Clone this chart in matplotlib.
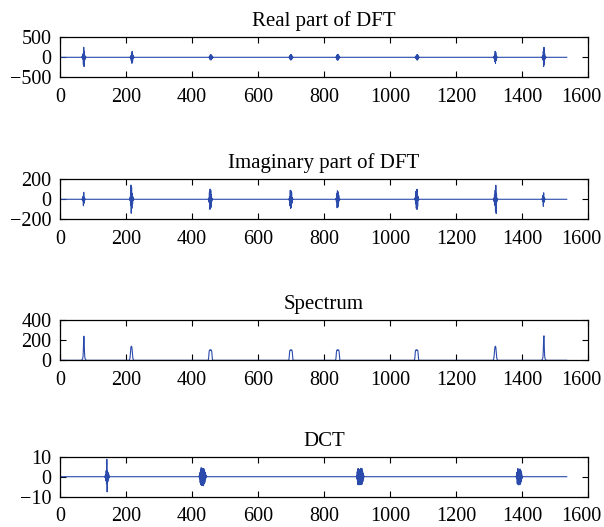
import numpy as np
import matplotlib
matplotlib.use("Agg")
import matplotlib.pyplot as plt
import matplotlib.transforms as mtransforms

plt.rcParams['font.family'] = ['Liberation Serif', 'DejaVu Serif']
plt.rcParams['font.size'] = 14.5

# number of samples
N = 1536

# ---- Real part of DFT: burst start index and sample values
re_starts = [65, 211, 450, 693, 835, 1075, 1313, 1459]
re_bursts = [
    [10, -15, 25, -45, 90, -180, 250, -231, 150, -70, 35, -20, 12, -8],
    [-6, 10, -20, 40, -80, 120, -150, 150, -110, 60, -30, 15, -8],
    [-5, 10, -20, 35, -55, 70, -68, 65, -60, 45, -30, 20, -10, 5],
    [-5, 12, -25, 45, -60, 72, -70, 66, -55, 40, -22, 10, -5],
    [-6, 14, -28, 50, -65, 75, -72, 70, -60, 45, -25, 12, -6],
    [5, -10, 20, -30, 45, -60, 68, -70, 65, -50, 35, -20, 10, -5],
    [-8, 15, -30, 60, -110, 150, -150, 120, -80, 40, -20, 10, -6],
    [-8, 12, -20, 35, -70, 150, -231, 250, -180, 90, -45, 25, -15, 10],
]

# ---- Imaginary part of DFT
im_starts = [66, 210, 449, 693, 835, 1074, 1313, 1460]
im_bursts = [
    [-5, 8, -15, 30, -65, 70, -40, 20, -10, 5],
    [4, -10, 25, -60, 142, -140, 120, -90, 60, -45, 25, -12, 6],
    [-5, 12, -30, 70, -100, 102, -95, 90, -80, 45, -20, 8, -4],
    [5, -12, 28, -65, 90, -92, 85, -80, 70, -40, 18, -7, 3],
    [-4, 10, -25, 60, -85, 85, -80, 75, -65, 38, -16, 6, -3],
    [4, -8, 20, -45, 80, -90, 95, -102, 100, -70, 30, -12, 5],
    [-6, 12, -25, 45, -60, 90, -120, 140, -142, 60, -25, 10, -4],
    [-5, 10, -20, 40, -70, 65, -30, 15, -8, 5],
]

# ---- Spectrum (magnitude)
sp_starts = [65, 209, 448, 692, 834, 1073, 1312, 1459]
sp_bursts = [
    [3, 6, 10, 20, 45, 120, 241, 235, 110, 40, 18, 9, 5, 3],
    [3, 8, 20, 50, 95, 130, 141, 138, 128, 95, 50, 20, 8, 3],
    [3, 10, 40, 85, 100, 104, 100, 103, 101, 104, 100, 85, 40, 10, 3],
    [3, 10, 40, 85, 100, 103, 101, 104, 100, 103, 100, 85, 40, 10, 3],
    [3, 10, 40, 85, 100, 104, 100, 103, 101, 104, 100, 85, 40, 10, 3],
    [3, 10, 40, 85, 100, 103, 101, 104, 100, 103, 100, 85, 40, 10, 3],
    [3, 8, 20, 50, 95, 128, 138, 141, 130, 95, 50, 20, 8, 3],
    [3, 5, 9, 18, 40, 110, 235, 245, 120, 45, 20, 10, 6, 3],
]

# ---- DCT
dct_starts = [135, 421, 898, 1382]
dct_bursts = [
    [0.3, -0.5, 1, -2, 3, -3.5, 8.7, -7.6, 3, -2.5, 2, -1.5, 1, -0.5],
    [0.5, -1, 2, -3, 3.5, -4, 4.5, -4.2, 3.8, -4.4, 4.2, -3.6, 3.9, -4.5, 4,
     -3.5, 3.2, -2.8, 2.2, -1.5, 1, -0.5, 0.3],
    [0.5, -1.2, 2.5, -3.8, 4, -3.5, 3.9, -4.1, 3.6, -3.2, 2.5, -3.8, 4.2, -4,
     3.5, -3.9, 4.1, -3.6, 3, -2.4, 1.8, -1, 0.5],
    [0.4, -1, 2.2, -3.5, 4, -3.8, 3.5, -4.1, 3.9, -3.2, 3.6, -4, 3.8, -3.4,
     3, -2.5, 1.8, -1, 0.4],
]

panels = [
    ("Real part of DFT", re_starts, re_bursts, (-500, 500), [-500, 0, 500]),
    ("Imaginary part of DFT", im_starts, im_bursts, (-200, 200), [-200, 0, 200]),
    ("Spectrum", sp_starts, sp_bursts, (0, 400), [0, 200, 400]),
    ("DCT", dct_starts, dct_bursts, (-10, 10), [-10, 0, 10]),
]

fig = plt.figure(figsize=(6.04, 5.27), dpi=100)
bottoms = [0.8533, 0.5839, 0.3163, 0.0575]
color = '#2a4bab'
shift = mtransforms.ScaledTranslation(-0.07, 0, fig.dpi_scale_trans)

for (title, starts, bursts, ylim, yticks), b in zip(panels, bottoms):
    ax = fig.add_axes([0.0993, b, 0.874, 0.0759])
    y = np.zeros(N)
    for s, vals in zip(starts, bursts):
        y[s:s + len(vals)] = vals
    x = np.arange(1, N + 1)
    ax.plot(x, y, color=color, lw=0.8)
    ax.set_xlim(0, 1600)
    ax.set_ylim(*ylim)
    ax.set_xticks(range(0, 1601, 200))
    ax.set_yticks(yticks)
    ax.set_yticklabels([str(t).replace('-', '\u2212') for t in yticks])
    ax.tick_params(direction='in', top=True, right=True, length=4, width=0.8)
    ax.tick_params(axis='x', pad=7.5)
    ax.tick_params(axis='y', pad=6)
    last = ax.get_xticklabels()[-1]
    last.set_transform(last.get_transform() + shift)
    ax.set_title(title, fontsize=15, pad=8)
    for sp in ax.spines.values():
        sp.set_linewidth(0.9)

fig.savefig("out.png", dpi=100)
